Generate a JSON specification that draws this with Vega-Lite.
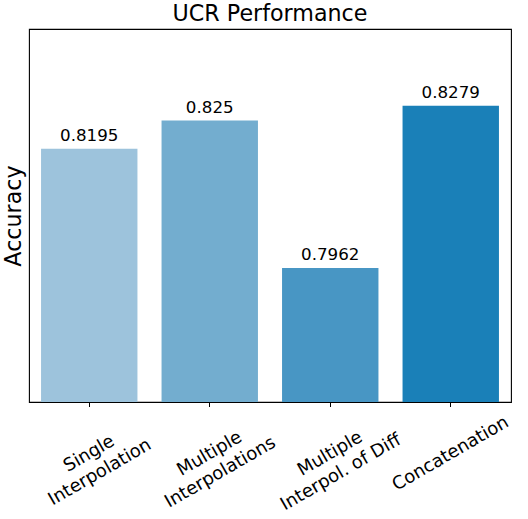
{
  "$schema": "https://vega.github.io/schema/vega-lite/v6.json",
  "description": "UCR performance bar chart",
  "autosize": "none",
  "padding": {"left": 29, "top": 29, "right": 17, "bottom": 117},
  "width": 482,
  "height": 373,
  "background": "white",
  "config": {
    "font": "DejaVu Sans",
    "view": {"stroke": "#000000", "strokeWidth": 1.1},
    "title": {"font": "DejaVu Sans", "fontSize": 22.2, "fontWeight": "normal", "color": "#000000", "offset": 4}
  },
  "title": {"text": "UCR Performance", "anchor": "middle"},
  "data": {
    "values": [
      {"method": "Single\nInterpolation", "accuracy": 0.8195},
      {"method": "Multiple\nInterpolations", "accuracy": 0.825},
      {"method": "Multiple\nInterpol. of Diff", "accuracy": 0.7962},
      {"method": "Concatenation", "accuracy": 0.8279}
    ]
  },
  "encoding": {
    "x": {
      "field": "method",
      "type": "nominal",
      "sort": null,
      "scale": {"paddingInner": 0.2, "paddingOuter": 0.1},
      "axis": {
        "title": null,
        "labelAngle": -30,
        "labelAlign": "center",
        "labelBaseline": "middle",
        "labelPadding": 47,
        "labelFontSize": 18,
        "labelLineHeight": 21.5,
        "labelColor": "#000000",
        "labelExpr": "split(datum.label, '\\n')",
        "tickColor": "#000000",
        "tickSize": 4.5,
        "domain": false,
        "grid": false
      }
    },
    "y": {
      "field": "accuracy",
      "type": "quantitative",
      "scale": {"domain": [0.77, 0.8429], "zero": false, "nice": false},
      "axis": {
        "title": "Accuracy",
        "titleFontSize": 22.2,
        "titleFontWeight": "normal",
        "titleColor": "#000000",
        "titlePadding": 4,
        "labels": false,
        "ticks": false,
        "domain": false,
        "grid": false
      }
    }
  },
  "layer": [
    {
      "mark": {"type": "bar", "clip": true},
      "encoding": {
        "color": {
          "field": "method",
          "type": "nominal",
          "scale": {
            "domain": ["Single\nInterpolation", "Multiple\nInterpolations", "Multiple\nInterpol. of Diff", "Concatenation"],
            "range": ["#9dc3dc", "#73adcf", "#4896c4", "#1a80b8"]
          },
          "legend": null
        }
      }
    },
    {
      "mark": {"type": "text", "baseline": "alphabetic", "dy": -8, "fontSize": 16.7, "color": "#000000"},
      "encoding": {
        "text": {"field": "accuracy", "type": "quantitative"}
      }
    }
  ]
}
